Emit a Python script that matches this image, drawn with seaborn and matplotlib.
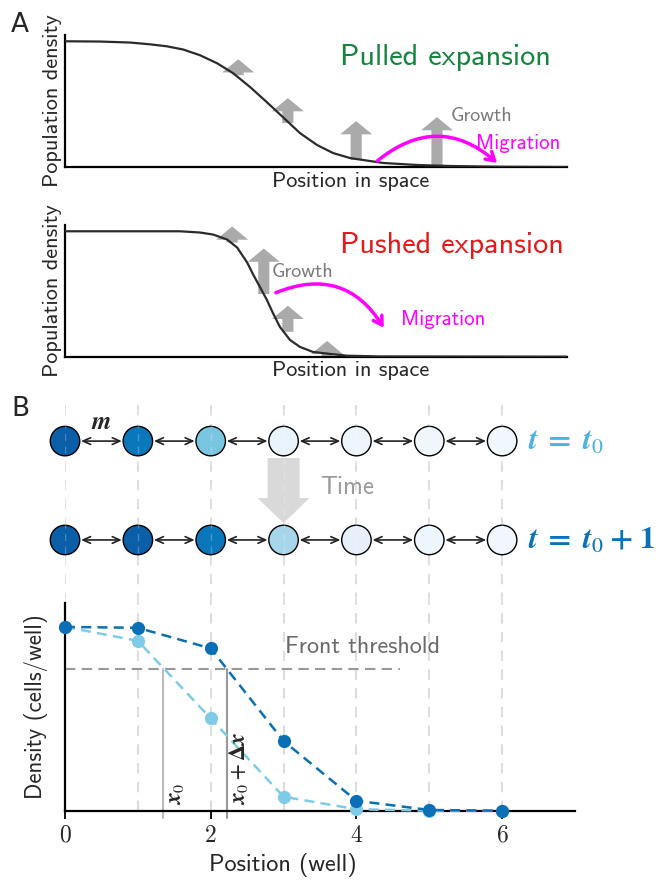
import matplotlib
matplotlib.use("Agg")
import matplotlib.pyplot as plt
import seaborn as sns

# ---------------- data ----------------
# Panel A: density profiles (x = fraction of the spatial axis, y = relative density)
pulled_x = [0.0, 0.070, 0.130, 0.169, 0.203, 0.235, 0.269, 0.303, 0.335, 0.369, 0.402,
            0.434, 0.468, 0.502, 0.534, 0.568, 0.634, 0.701, 0.767, 0.867, 1.0]
pulled_y = [1.0, 0.998, 0.990, 0.976, 0.960, 0.935, 0.889, 0.825, 0.746, 0.635, 0.516,
            0.397, 0.270, 0.175, 0.111, 0.071, 0.032, 0.016, 0.008, 0.002, 0.0]
pushed_x = [0.0, 0.229, 0.269, 0.295, 0.323, 0.343, 0.363, 0.375, 0.388, 0.402, 0.414,
            0.428, 0.448, 0.468, 0.494, 0.528, 0.562, 0.628, 1.0]
pushed_y = [1.0, 1.0, 0.990, 0.974, 0.934, 0.870, 0.750, 0.654, 0.558, 0.454, 0.350,
            0.238, 0.134, 0.078, 0.038, 0.022, 0.008, 0.002, 0.0]

# growth arrows (x, tail, head)
pulled_arrow_x = [0.345, 0.444, 0.580, 0.741]
pulled_arrow_tail = [0.73, 0.349, 0.056, 0.0]
pulled_arrow_head = [0.857, 0.548, 0.365, 0.397]
pushed_arrow_x = [0.333, 0.396, 0.444, 0.522]
pushed_arrow_tail = [0.91, 0.50, 0.198, 0.006]
pushed_arrow_head = [1.038, 0.862, 0.406, 0.126]

# Panel B
wells = [0, 1, 2, 3, 4, 5, 6]
density_t0 = [1.0, 0.924, 0.502, 0.076, 0.008, 0.0, 0.0]
density_t1 = [1.0, 0.995, 0.883, 0.379, 0.054, 0.004, 0.0]
colors_t0 = ['#0b5ea8', '#0a77bb', '#78c6df', '#e9f3fb', '#eef6fd', '#eff7fd', '#f0f7fd']
colors_t1 = ['#0b5ea8', '#0b5ea8', '#0a77bb', '#a7d5ea', '#e6effa', '#eef6fd', '#f0f7fd']
threshold = 0.77
x0 = 1.35
x0_dx = 2.23
xtick_vals = [0, 2, 4, 6]
xtick_labels = ['$0$', '$2$', '$4$', '$6$']

# ---------------- style ----------------
sns.set_theme(style="white")
plt.rcParams['font.family'] = ['cmss10', 'DejaVu Sans']
plt.rcParams['mathtext.fontset'] = 'cm'
plt.rcParams['axes.unicode_minus'] = False

DARK = '#0a6fb5'
LIGHT = '#7fcae6'
GREY_ARROW = '#aaaaaa'
MAGENTA = '#ff00ff'

fig = plt.figure(figsize=(6.61, 8.80), dpi=100)

def panel_a(ax, xs, ys, ax_x, tails, heads, title, tcol, growth_xy, mig_xy, arc, rad):
    for xa, t, h in zip(ax_x, tails, heads):
        ax.annotate('', xy=(xa, h), xytext=(xa, t),
                    arrowprops=dict(arrowstyle='simple,head_width=2.3,head_length=0.95,tail_width=0.8',
                                    color=GREY_ARROW, lw=0, shrinkA=0, shrinkB=0,
                                    mutation_scale=10), zorder=1, annotation_clip=False)
    sns.lineplot(x=xs, y=ys, ax=ax, color='#2b2b2b', lw=1.6, zorder=3)
    ax.set_xlim(0, 1)
    ax.set_ylim(0, 1.05)
    ax.set_xticks([])
    ax.set_yticks([])
    for s in ['top', 'right']:
        ax.spines[s].set_visible(False)
    for s in ['left', 'bottom']:
        ax.spines[s].set_color('black')
        ax.spines[s].set_linewidth(1.6)
    ax.set_ylabel('Population density', fontsize=16, labelpad=2)
    ax.set_xlabel('Position in space', fontsize=16, labelpad=3)
    ax.xaxis.set_label_coords(0.568, -0.035, transform=ax.transAxes)
    ax.xaxis.label.set_va('top')
    ax.text(0.548, title[1], title[0], color=tcol, fontsize=21.8, va='center', ha='left',
            transform=ax.transAxes)
    ax.text(growth_xy[0], growth_xy[1], 'Growth', color='#7a7a7a', fontsize=14.5,
            va='center', ha='left')
    ax.text(mig_xy[0], mig_xy[1], 'Migration', color=MAGENTA, fontsize=15,
            va='center', ha='left')
    ax.annotate('', xy=arc[1], xytext=arc[0],
                arrowprops=dict(arrowstyle='->,head_length=0.5,head_width=0.3', color=MAGENTA,
                                lw=2.5, shrinkA=0, shrinkB=0,
                                connectionstyle=f'arc3,rad={rad}'), zorder=4)

ax1 = fig.add_axes([65/661, 1-167/880, 502/661, 132/880])
panel_a(ax1, pulled_x, pulled_y, pulled_arrow_x, pulled_arrow_tail, pulled_arrow_head,
        ('Pulled expansion', 0.83), '#15843f', (0.769, 0.405), (0.819, 0.19),
        ((0.622, 0.048), (0.861, 0.032)), -0.42)

ax2 = fig.add_axes([65/661, 1-356.7/880, 502/661, 131.7/880])
panel_a(ax2, pushed_x, pushed_y, pushed_arrow_x, pushed_arrow_tail, pushed_arrow_head,
        ('Pushed expansion', 0.845), '#e31a1c', (0.412, 0.678), (0.669, 0.294),
        ((0.42, 0.51), (0.635, 0.23)), -0.42)

# ---- schematic of wells ----
axs = fig.add_axes([65/661, 1-603/880, 510/661, 206/880])
axs.set_xlim(0, 7)
axs.set_ylim(0, 1)
axs.axis('off')
for w in wells:
    axs.axvline(w, color='#dddddd', lw=1.5, ls=(0, (5, 4)), zorder=0)
row_y = [0.786, 0.306]
for ry, cols in zip(row_y, [colors_t0, colors_t1]):
    sns.scatterplot(x=wells, y=[ry]*len(wells), hue=cols, palette={c: c for c in cols},
                    s=450, edgecolor='black', linewidth=1.0, legend=False, ax=axs,
                    zorder=3, clip_on=False)
    for w in wells[:-1]:
        axs.annotate('', xy=(w + 0.78, ry), xytext=(w + 0.22, ry),
                     arrowprops=dict(arrowstyle='<->,head_length=0.45,head_width=0.2',
                                     color='#222222', lw=1.2, shrinkA=0, shrinkB=0))
for w in wells:
    axs.axvline(w, color='white', lw=1.0, ls=(0, (5, 4)), alpha=0.25, zorder=4)
axs.annotate('', xy=(3, 0.388), xytext=(3, 0.704),
             arrowprops=dict(arrowstyle='simple,head_width=3.74,head_length=1.8,tail_width=2.3',
                             color='#d9d9d9', lw=0, shrinkA=0, shrinkB=0, mutation_scale=10),
             zorder=2)
axs.text(3.5, 0.563, 'Time', color='#9a9a9a', fontsize=18, ha='left', va='center')
axs.text(0.5, 0.874, r'$\mathbfit{m}$', fontsize=18, ha='center', va='center',
         math_fontfamily='stix')
axs.text(6.36, 0.786, r'$\mathbfit{t}\;\mathbf{=}\;\mathbfit{t}_0$', color='#4ab2df',
         fontsize=22.5, ha='left', va='center', math_fontfamily='stix')
axs.text(6.36, 0.306, r'$\mathbfit{t}\;\mathbf{=}\;\mathbfit{t}_0\;\mathbf{+}\;\mathbf{1}$',
         color='#0a72b8', fontsize=22.5, ha='left', va='center', math_fontfamily='stix')

# ---- density profile ----
ax3 = fig.add_axes([65/661, 1-810.7/880, 510/661, 207.7/880])
for w in wells:
    ax3.axvline(w, color='#dddddd', lw=1.5, ls=(0, (5, 4)), zorder=0)
ax3.plot([0, 4.6], [threshold, threshold], color='#999999', lw=1.5, ls=(0, (5, 3)), zorder=1)
ax3.plot([x0, x0], [-0.04, threshold], color='#bbbbbb', lw=1.5, clip_on=False, zorder=1)
ax3.plot([x0_dx, x0_dx], [-0.04, threshold], color='#999999', lw=1.5, clip_on=False, zorder=1)
sns.lineplot(x=wells, y=density_t0, ax=ax3, color=LIGHT, lw=1.8, ls=(0, (4, 2.5)),
             marker='o', markersize=9.5, markeredgewidth=0, clip_on=False, zorder=3)
sns.lineplot(x=wells, y=density_t1, ax=ax3, color=DARK, lw=1.8, ls=(0, (4, 2.5)),
             marker='o', markersize=9.5, markeredgewidth=0, clip_on=False, zorder=4)
ax3.set_xlim(0, 7)
ax3.set_ylim(0, 1.13)
ax3.set_yticks([])
ax3.set_xticks(xtick_vals)
ax3.set_xticklabels(xtick_labels, fontsize=17)
ax3.tick_params(axis='x', direction='out', length=6, width=1.3, color='black', bottom=True, pad=4)
for s in ['top', 'right']:
    ax3.spines[s].set_visible(False)
for s in ['left', 'bottom']:
    ax3.spines[s].set_color('black')
    ax3.spines[s].set_linewidth(1.6)
ax3.set_ylabel('Density (cells/well)', fontsize=16.5, labelpad=12)
ax3.set_xlabel('Position (well)', fontsize=17.5, labelpad=2)
ax3.xaxis.set_label_coords(0.427, -0.205, transform=ax3.transAxes)
ax3.text(3.02, 0.89, 'Front threshold', color='#6a6a6a', fontsize=17.4, ha='left', va='center')
ax3.text(1.51, 0.03, r'$\mathbfit{x}_0$', fontsize=16.5, rotation=90,
         ha='center', va='bottom', math_fontfamily='stix')
ax3.text(2.38, 0.03, r'$\mathbfit{x}_0 + \mathbf{\Delta}\mathbfit{x}$', fontsize=16.5,
         rotation=90, ha='center', va='bottom', math_fontfamily='stix')

fig.text(20/661, 1-25/880, 'A', fontsize=19, ha='center', va='center', family='DejaVu Sans')
fig.text(20/661, 1-409/880, 'B', fontsize=19, ha='center', va='center', family='DejaVu Sans')

fig.savefig('out.png', dpi=100)
